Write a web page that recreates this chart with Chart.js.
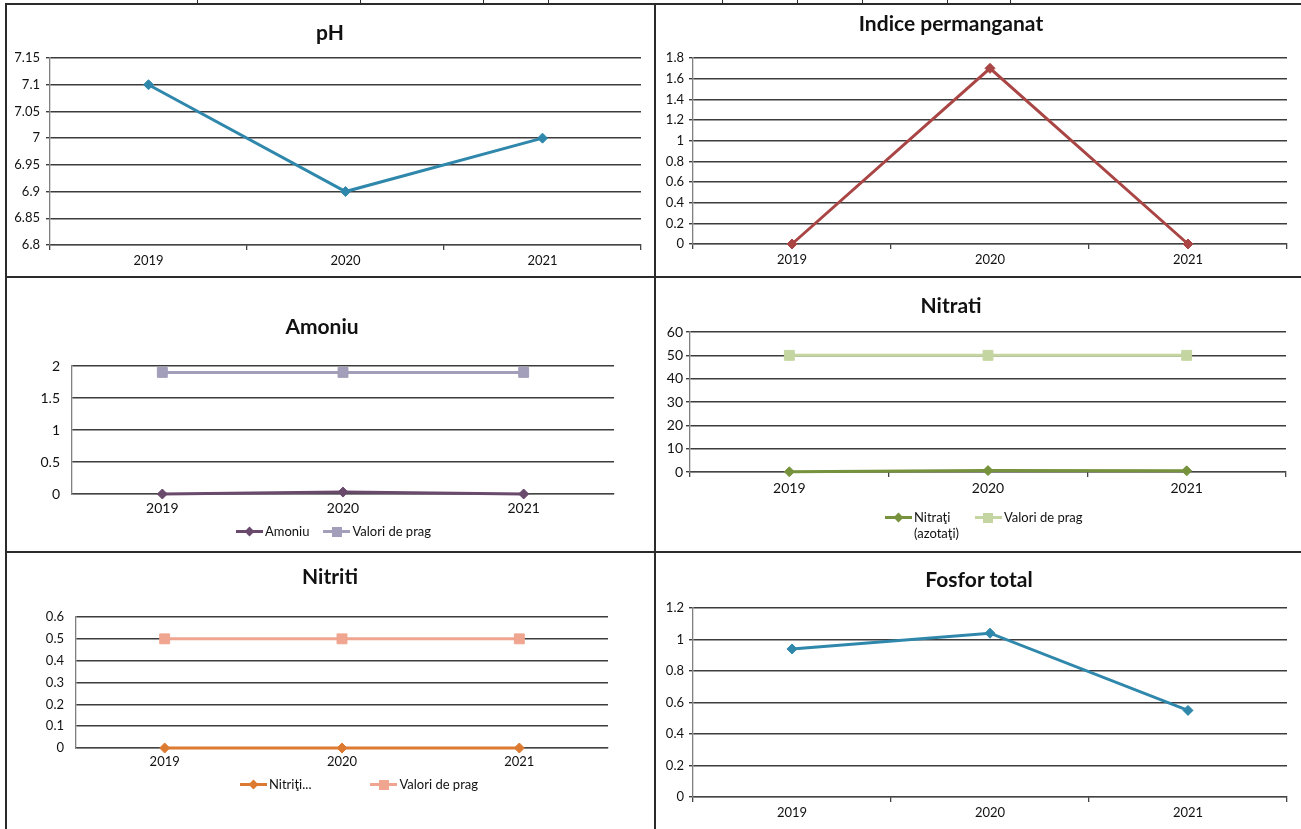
<!DOCTYPE html>
<html>
<head>
<meta charset="utf-8">
<script src="https://cdn.jsdelivr.net/npm/chart.js@4.4.0/dist/chart.umd.min.js"></script>
<style>
  body { margin: 0; background: #fff; font-family: Lato, sans-serif; color: #111; }
  #page { position: relative; width: 1301px; height: 829px; overflow: hidden; }
  canvas { position: absolute; }
  .ln { position: absolute; background: #2b2b2b; }
  .title { position: absolute; transform: translate(-50%, -50%); font-weight: bold; font-size: 21px; white-space: nowrap; }
  .legend { position: absolute; font-size: 13px; display: flex; align-items: flex-start; white-space: nowrap; }
  .item { display: flex; align-items: flex-start; }
  .sample { position: relative; width: 27px; height: 3px; margin-top: 7px; margin-right: 2px; }
  .mk { position: absolute; left: 50%; top: 50%; }
</style>
</head>
<body>
<div id="page">
  <canvas id="c1"></canvas>
  <canvas id="c2"></canvas>
  <canvas id="c3"></canvas>
  <canvas id="c4"></canvas>
  <canvas id="c5"></canvas>
  <canvas id="c6"></canvas>
</div>
<script>
// years on the x axis
const years = ['2019', '2020', '2021'];

// series values
const phValues = [7.1, 6.9, 7.0];
const permanganatValues = [0, 1.7, 0];
const amoniuValues = [0, 0.03, 0];
const amoniuPrag = [1.9, 1.9, 1.9];
const nitratiValues = [0.1, 0.6, 0.5];
const nitratiPrag = [50, 50, 50];
const nitritiValues = [0, 0, 0];
const nitritiPrag = [0.5, 0.5, 0.5];
const fosforValues = [0.94, 1.04, 0.55];

// y axis [min, max, step]
const phRange = [6.8, 7.15, 0.05];
const permanganatRange = [0, 1.8, 0.2];
const amoniuRange = [0, 2, 0.5];
const nitratiRange = [0, 60, 10];
const nitritiRange = [0, 0.6, 0.1];
const fosforRange = [0, 1.2, 0.2];

const page = document.getElementById('page');

function line(x, y, w, h) {
    const d = document.createElement('div');
    d.className = 'ln';
    d.style.left = x + 'px'; d.style.top = y + 'px';
    d.style.width = w + 'px'; d.style.height = h + 'px';
    page.appendChild(d);
}

// panel frame and bits of the table above
line(5, 3, 1296, 2);
line(5, 3, 2, 826);
line(654, 3, 2, 826);
line(5, 276, 1296, 2);
line(5, 551, 1296, 2);
[197, 360, 483, 548, 722, 797, 862, 947, 1010].forEach(x => line(x, 0, 1, 4));

function title(text, x, y) {
    const d = document.createElement('div');
    d.className = 'title';
    d.textContent = text;
    d.style.left = x + 'px'; d.style.top = y + 'px';
    page.appendChild(d);
}

function marker(color, style) {
    const m = document.createElement('span');
    m.className = 'mk';
    m.style.background = color;
    if (style === 'rect') {
        m.style.width = '10px'; m.style.height = '10px';
        m.style.marginLeft = '-5px'; m.style.marginTop = '-5px';
    } else {
        m.style.width = '7px'; m.style.height = '7px';
        m.style.marginLeft = '-3.5px'; m.style.marginTop = '-3.5px';
        m.style.transform = 'rotate(45deg)';
    }
    return m;
}

function legend(x, y, items, gap) {
    const d = document.createElement('div');
    d.className = 'legend';
    d.style.left = x + 'px'; d.style.top = y + 'px';
    items.forEach((it, i) => {
        const item = document.createElement('div');
        item.className = 'item';
        if (i > 0) item.style.marginLeft = gap + 'px';
        const s = document.createElement('span');
        s.className = 'sample';
        s.style.background = it.color;
        s.appendChild(marker(it.color, it.style));
        const t = document.createElement('span');
        t.innerHTML = it.text;
        t.style.lineHeight = '16px';
        item.appendChild(s);
        item.appendChild(t);
        d.appendChild(item);
    });
    page.appendChild(d);
}

function series(label, data, color, style) {
    return {
        label: label,
        data: data,
        borderColor: color,
        backgroundColor: color,
        borderWidth: 3,
        pointStyle: style,
        pointRadius: style === 'rect' ? 7 : 5,
        pointHoverRadius: style === 'rect' ? 7 : 5,
        pointBorderWidth: 1,
        tension: 0,
        clip: false
    };
}

// rect = canvas [x, y, w, h], area = plot [left, top, right, bottom], page coordinates
function buildChart(id, rect, area, range, datasets, o) {
    const canvas = document.getElementById(id);
    canvas.width = rect[2];
    canvas.height = rect[3];
    canvas.style.left = rect[0] + 'px';
    canvas.style.top = rect[1] + 'px';
    const yw = area[0] - rect[0] - 2;
    const xh = 22;
    new Chart(canvas.getContext('2d'), {
        type: 'line',
        data: { labels: years, datasets: datasets },
        options: {
            responsive: false,
            animation: false,
            events: [],
            layout: {
                padding: {
                    left: 2,
                    right: rect[0] + rect[2] - area[2],
                    top: area[1] - rect[1],
                    bottom: rect[1] + rect[3] - area[3] - xh
                }
            },
            plugins: { legend: { display: false }, title: { display: false }, tooltip: { enabled: false } },
            scales: {
                x: {
                    offset: true,
                    afterFit: s => { s.height = xh; },
                    grid: {
                        offset: true,
                        drawOnChartArea: false,
                        drawTicks: o.xTicks,
                        tickLength: 5,
                        color: '#444',
                        lineWidth: 1.3
                    },
                    border: { display: true, color: '#444', width: 1.3 },
                    ticks: {
                        padding: o.xTicks ? 3 : 6,
                        color: '#111',
                        font: { family: 'Lato', size: o.xFont }
                    }
                },
                y: {
                    min: range[0],
                    max: range[1],
                    afterFit: s => { s.width = yw; },
                    grid: {
                        color: '#3c3c3c',
                        lineWidth: 1.4,
                        drawTicks: true,
                        tickLength: o.yTick
                    },
                    border: { display: true, color: '#808080', width: 1.3 },
                    ticks: {
                        stepSize: range[2],
                        padding: o.yPad,
                        color: '#111',
                        font: { family: 'Lato', size: o.yFont },
                        callback: v => String(+v.toFixed(3))
                    }
                }
            }
        }
    });
}

const blue = '#2f88ab';

// pH
title('pH', 330, 31);
buildChart('c1', [7, 6, 646, 270], [50, 58, 641, 245], phRange,
    [series('pH', phValues, blue, 'rectRot')],
    { xTicks: true, xFont: 13, yFont: 13, yTick: 4, yPad: 6 });

// Indice permanganat
title('Indice permanganat', 951, 22);
buildChart('c2', [657, 6, 644, 270], [693, 58, 1287, 244], permanganatRange,
    [series('Indice permanganat', permanganatValues, '#a94544', 'rectRot')],
    { xTicks: true, xFont: 13, yFont: 13, yTick: 4, yPad: 5 });

// Amoniu
title('Amoniu', 322, 325);
buildChart('c3', [7, 279, 646, 272], [72, 366, 614, 494], amoniuRange,
    [series('Amoniu', amoniuValues, '#694a6c', 'rectRot'),
     series('Valori de prag', amoniuPrag, '#a39eb9', 'rect')],
    { xTicks: false, xFont: 14, yFont: 14, yTick: 0, yPad: 12 });
legend(236, 523, [
    { text: 'Amoniu', color: '#694a6c', style: 'rectRot' },
    { text: 'Valori de prag', color: '#a39eb9', style: 'rect' }
], 14);

// Nitrati
title('Nitrati', 951, 304);
buildChart('c4', [657, 279, 644, 272], [690, 332, 1286, 472], nitratiRange,
    [series('Nitraţi (azotaţi)', nitratiValues, '#76923c', 'rectRot'),
     series('Valori de prag', nitratiPrag, '#c4d5a1', 'rect')],
    { xTicks: true, xFont: 14, yFont: 14, yTick: 4, yPad: 3 });
legend(885, 509, [
    { text: 'Nitraţi<br>(azotaţi)', color: '#76923c', style: 'rectRot' },
    { text: 'Valori de prag', color: '#c4d5a1', style: 'rect' }
], 16);

// Nitriti
title('Nitriti', 330, 575);
buildChart('c5', [7, 554, 646, 275], [76, 617, 608, 748], nitritiRange,
    [series('Nitriţi...', nitritiValues, '#dd7a32', 'rectRot'),
     series('Valori de prag', nitritiPrag, '#efa58f', 'rect')],
    { xTicks: false, xFont: 13, yFont: 13, yTick: 0, yPad: 12 });
legend(240, 776, [
    { text: 'Nitriţi...', color: '#dd7a32', style: 'rectRot' },
    { text: 'Valori de prag', color: '#efa58f', style: 'rect' }
], 59);

// Fosfor total
title('Fosfor total', 979, 578);
buildChart('c6', [657, 555, 644, 274], [693, 608, 1287, 797], fosforRange,
    [series('Fosfor total', fosforValues, blue, 'rectRot')],
    { xTicks: true, xFont: 13, yFont: 13, yTick: 4, yPad: 5 });
</script>
</body>
</html>
